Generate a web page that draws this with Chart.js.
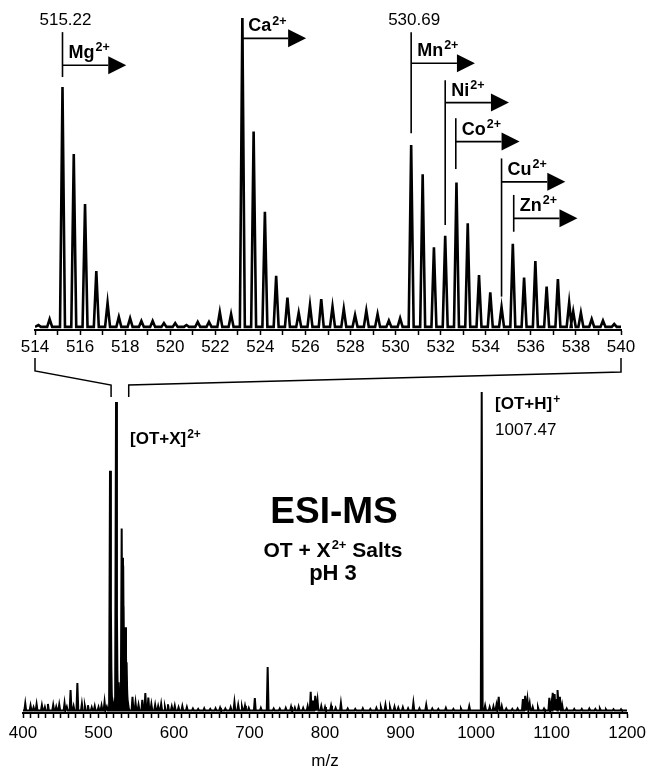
<!DOCTYPE html>
<html>
<head>
<meta charset="utf-8">
<script src="https://cdn.jsdelivr.net/npm/chart.js@4.4.1/dist/chart.umd.min.js"></script>
<style>
html,body{margin:0;padding:0;background:#fff;}
#wrap{position:relative;width:651px;height:768px;overflow:hidden;}
canvas{position:absolute;left:0;}
#inset{top:0;}
#full{top:350px;}
</style>
</head>
<body>
<div id="wrap">
  <canvas id="inset" width="651" height="360"></canvas>
  <canvas id="full" width="651" height="418"></canvas>
</div>
<script>
// [OT+X]2+ isotope peaks, zoomed region: [m/z, intensity] (Ca2+ top peak = 100)
const insetPeaks = [
  [514.15,1.6],[514.65,3.5],[515.22,77.9],[515.72,56.4],[516.22,40.4],[516.72,18.9],
  [517.22,8.7],[517.72,4.2],[518.22,3.8],[518.72,2.9],[519.22,2.9],[519.72,2.2],
  [520.22,2.2],[520.72,1.6],[521.22,2.6],[521.72,2.6],[522.2,5.8],[522.7,5.1],
  [523.2,100],[523.7,63.6],[524.2,37.9],[524.7,17.4],[525.2,10.4],[525.7,5.5],
  [526.2,8.0],[526.7,9.9],[527.2,7.5],[527.7,6.8],[528.2,4.8],[528.7,6.2],
  [529.2,5.1],[529.7,3.0],[530.2,3.8],[530.69,59.3],[531.2,49.9],[531.7,26.5],
  [532.2,30.2],[532.7,47.3],[533.2,34.2],[533.7,17.6],[534.2,12.1],[534.7,7.3],
  [535.2,27.6],[535.7,16.8],[536.2,22.1],[536.7,13.9],[537.2,16.3],[537.7,8.8],
  [537.88,5.9],[538.22,5.5],[538.7,3.5],[539.2,3.0],[539.7,1.9]
];

// rest of the full scan (same intensity units)
const fullPeaks = [
  [403,3.1],[410,2.4],[414,1.8],[418,2.8],[425,2.5],[429,1.9],[433,2.9],[440,2.6],
  [444,2.0],[448,2.7],[455,3.2],[458,2.0],[463,7.4],[467,2.2],[472,9.6],[478,3.0],
  [482,2.2],[486,2.5],[491,1.8],[495,2.2],[500,1.9],[504,2.4],[508,3.6],[511,2.0],
  [545,5.2],[549,3.4],[553,2.6],[558,4.2],[562,6.4],[566,5.0],[570,2.8],[575,2.6],
  [579,2.2],[583,2.9],[588,2.0],[592,2.8],[597,2.1],[601,2.3],[606,1.8],[611,2.2],
  [617,1.9],[625,1.4],[632,1.3],[640,1.5],[648,1.3],[655,1.5],[661,1.7],[668,1.4],
  [675,1.8],[680,3.5],[685,2.6],[690,2.0],[694,2.3],[699,1.6],[707,4.8],[715,1.6],
  [724,14.8],[732,1.4],[740,1.4],[748,1.6],[755,2.0],[760,1.7],[765,2.0],[771,1.6],
  [777,2.2],[781,6.8],[784,4.0],[787,5.5],[790,4.2],[795,2.2],[800,1.9],[808,2.3],
  [814,1.6],[821,3.2],[830,1.4],[840,1.3],[850,1.5],[860,1.3],[868,1.6],[874,1.8],
  [880,2.6],[886,1.9],[892,2.0],[897,1.7],[903,1.8],[910,1.5],[917,3.3],[925,1.5],
  [934,2.6],[942,1.4],[950,1.3],[960,1.6],[970,1.3],[980,1.4],[991,2.2],[1007.47,103.2],
  [1012,2.3],[1018,1.9],[1023,2.1],[1027,2.6],[1030,5.2],[1034,2.2],[1040,1.4],[1048,1.3],
  [1055,1.4],[1062,4.5],[1065,5.5],[1068,4.4],[1071,3.2],[1075,1.9],[1082,1.8],[1090,1.4],
  [1097,4.9],[1100,3.6],[1101.5,6.5],[1104,6.1],[1107,4.5],[1108.5,7.4],[1111,5.2],[1114,2.6],
  [1120,1.4],[1130,1.3],[1140,1.3],[1150,1.4],[1158,1.3],[1164,1.4],[1172,1.2],[1182,1.2],
  [1192,1.2]
];

const insetTickLabels = [514,516,518,520,522,524,526,528,530,532,534,536,538,540];
const fullTickLabels = [400,500,600,700,800,900,1000,1100,1200];

const ionNames = ['Mg','Ca','Mn','Ni','Co','Cu','Zn'];
const ionMz = [515.22, 523.2, 530.69, 532.2, 532.67, 534.7, 535.24];
const massLabels = ['515.22','530.69'];

// layout of the ion markers, in intensity units: [line top, line bottom, arrow level]
const markerLevels = [
  [95.5,81.1,84.9],[100,90,93.5],[95.5,63.1,85.5],[80.1,33.7,72.9],
  [67.9,51.6,60.4],[55.0,10.7,47.5],[43.3,31.5,35.8]
];

const FONT = '"Liberation Sans", Arial, Helvetica, sans-serif';
const ARROW_SPAN = 2.03;

// turn a peak list into a stick-like trace on a flat baseline
function trace(peaks, hw, base, lo, hi){
  const pts = [{x:lo, y:base}];
  peaks.forEach(p => {
    pts.push({x:p[0]-hw, y:base}, {x:p[0], y:p[1]}, {x:p[0]+hw, y:base});
  });
  pts.push({x:hi, y:base});
  return pts;
}

function drawSup(ctx, main, sup, x, y, size, supSize, weight){
  ctx.font = weight + ' ' + size + 'px ' + FONT;
  ctx.fillText(main, x, y);
  const w = ctx.measureText(main).width;
  ctx.font = weight + ' ' + supSize + 'px ' + FONT;
  ctx.fillText(sup, x + w + 1, y - size*0.38);
  return w + 1 + ctx.measureText(sup).width;
}

function xAxis(min, max, step, labels, height, pad, title){
  return {
    type:'linear', min:min, max:max,
    afterBuildTicks: axis => {
      const t = [];
      for(let v=min; v<=max+1e-9; v+=step) t.push({value: Math.round(v*100)/100});
      axis.ticks = t;
    },
    afterFit: axis => { axis.height = height; },
    ticks:{
      autoSkip:false, maxRotation:0, color:'#000', padding:pad,
      font:{family:FONT, size:17},
      callback: v => labels.includes(v) ? String(v) : ''
    },
    grid:{drawOnChartArea:false, drawTicks:true, tickLength:5, tickColor:'#000', tickWidth:1.5},
    border:{color:'#000', width:2},
    title: title ? {display:true, text:title, color:'#000', font:{family:FONT, size:17, lineHeight:0.8}, padding:{top:0,bottom:0}} : {display:false}
  };
}

const insetMarks = {
  id:'insetMarks',
  afterDatasetsDraw(chart){
    const {ctx, scales:{x, y}} = chart;
    ctx.save();
    ctx.strokeStyle = '#000';
    ctx.fillStyle = '#000';
    ctx.textBaseline = 'alphabetic';
    ionMz.forEach((m, i) => {
      const [top, bottom, arrow] = markerLevels[i];
      const px = x.getPixelForValue(m);
      ctx.lineWidth = 1.6;
      ctx.beginPath();
      ctx.moveTo(px, y.getPixelForValue(top));
      ctx.lineTo(px, y.getPixelForValue(bottom));
      ctx.stroke();
      const ay = y.getPixelForValue(arrow);
      const ax = x.getPixelForValue(m + ARROW_SPAN);
      ctx.beginPath();
      ctx.moveTo(px, ay);
      ctx.lineTo(ax, ay);
      ctx.stroke();
      ctx.beginPath();
      ctx.moveTo(ax, ay-9);
      ctx.lineTo(ax+18, ay);
      ctx.lineTo(ax, ay+9);
      ctx.closePath();
      ctx.fill();
      ctx.textAlign = 'left';
      drawSup(ctx, ionNames[i], '2+', px+6, ay-7, 18, 12.5, 'bold');
    });
    ctx.font = '17px ' + FONT;
    ctx.textAlign = 'center';
    massLabels.forEach(s => {
      ctx.fillText(s, x.getPixelForValue(parseFloat(s)) + 3, y.getPixelForValue(97.8));
    });
    ctx.restore();
  }
};

const insetChart = new Chart(document.getElementById('inset'), {
  type:'line',
  data:{datasets:[{
    data: trace(insetPeaks, 0.11, 1.0, insetTickLabels[0], insetTickLabels[insetTickLabels.length-1]),
    borderColor:'#000', borderWidth:2.6, pointRadius:0, tension:0, fill:false
  }]},
  options:{
    responsive:false, animation:false, devicePixelRatio:1,
    layout:{padding:{left:35, right:30, top:0, bottom:0}},
    plugins:{legend:{display:false}, tooltip:{enabled:false}},
    scales:{
      x: xAxis(514, 540, 1, insetTickLabels, 30, 2, null),
      y: {display:false, min:0, max:105.8}
    }
  },
  plugins:[insetMarks]
});

const fullMarks = {
  id:'fullMarks',
  afterDatasetsDraw(chart){
    const {ctx, scales:{x}} = chart;
    const ix = insetChart.scales.x;
    const lo = insetTickLabels[0], hi = insetTickLabels[insetTickLabels.length-1];
    const l0 = ix.getPixelForValue(lo), r0 = ix.getPixelForValue(hi);
    const l1 = x.getPixelForValue(lo), r1 = x.getPixelForValue(hi);
    ctx.save();
    ctx.strokeStyle = '#000';
    ctx.lineWidth = 1.5;
    ctx.beginPath();
    ctx.moveTo(l0, 8); ctx.lineTo(l0, 21); ctx.lineTo(l1+2, 35); ctx.lineTo(l1+2, 47);
    ctx.moveTo(r0, 8); ctx.lineTo(r0, 22); ctx.lineTo(r1, 35); ctx.lineTo(r1, 47);
    ctx.stroke();

    ctx.fillStyle = '#000';
    ctx.textBaseline = 'alphabetic';
    ctx.textAlign = 'left';
    drawSup(ctx, '[OT+X]', '2+', 130, 94, 17, 12, 'bold');
    drawSup(ctx, '[OT+H]', '+', 495, 59, 17, 12, 'bold');
    ctx.font = '17px ' + FONT;
    ctx.fillText('1007.47', 495, 85);

    ctx.textAlign = 'center';
    ctx.font = 'bold 37px ' + FONT;
    ctx.fillText('ESI-MS', 334, 173);

    // centred line with a superscript
    ctx.textAlign = 'left';
    ctx.font = 'bold 21px ' + FONT;
    const a = ctx.measureText('OT + X').width;
    const c = ctx.measureText(' Salts').width;
    ctx.font = 'bold 13px ' + FONT;
    const b = ctx.measureText('2+').width + 1;
    let sx = 333 - (a + b + c)/2;
    ctx.font = 'bold 21px ' + FONT;
    ctx.fillText('OT + X', sx, 207);
    ctx.font = 'bold 13px ' + FONT;
    ctx.fillText('2+', sx + a + 1, 199);
    ctx.font = 'bold 21px ' + FONT;
    ctx.fillText(' Salts', sx + a + b, 207);

    ctx.textAlign = 'center';
    ctx.font = 'bold 22px ' + FONT;
    ctx.fillText('pH 3', 333, 230);
    ctx.restore();
  }
};

const allPeaks = fullPeaks.concat(insetPeaks).sort((p, q) => p[0] - q[0]);

new Chart(document.getElementById('full'), {
  type:'line',
  data:{datasets:[{
    data: trace(allPeaks, 1.2, 0.8, fullTickLabels[0], fullTickLabels[fullTickLabels.length-1]),
    borderColor:'#000', borderWidth:2, pointRadius:0, tension:0, fill:false
  }]},
  options:{
    responsive:false, animation:false, devicePixelRatio:1,
    layout:{padding:{left:23, right:20, top:0, bottom:0}},
    plugins:{legend:{display:false}, tooltip:{enabled:false}},
    scales:{
      x: xAxis(400, 1200, 10, fullTickLabels, 55, 5, 'm/z'),
      y: {display:false, min:0, max:116.7}
    }
  },
  plugins:[fullMarks]
});
</script>
</body>
</html>
